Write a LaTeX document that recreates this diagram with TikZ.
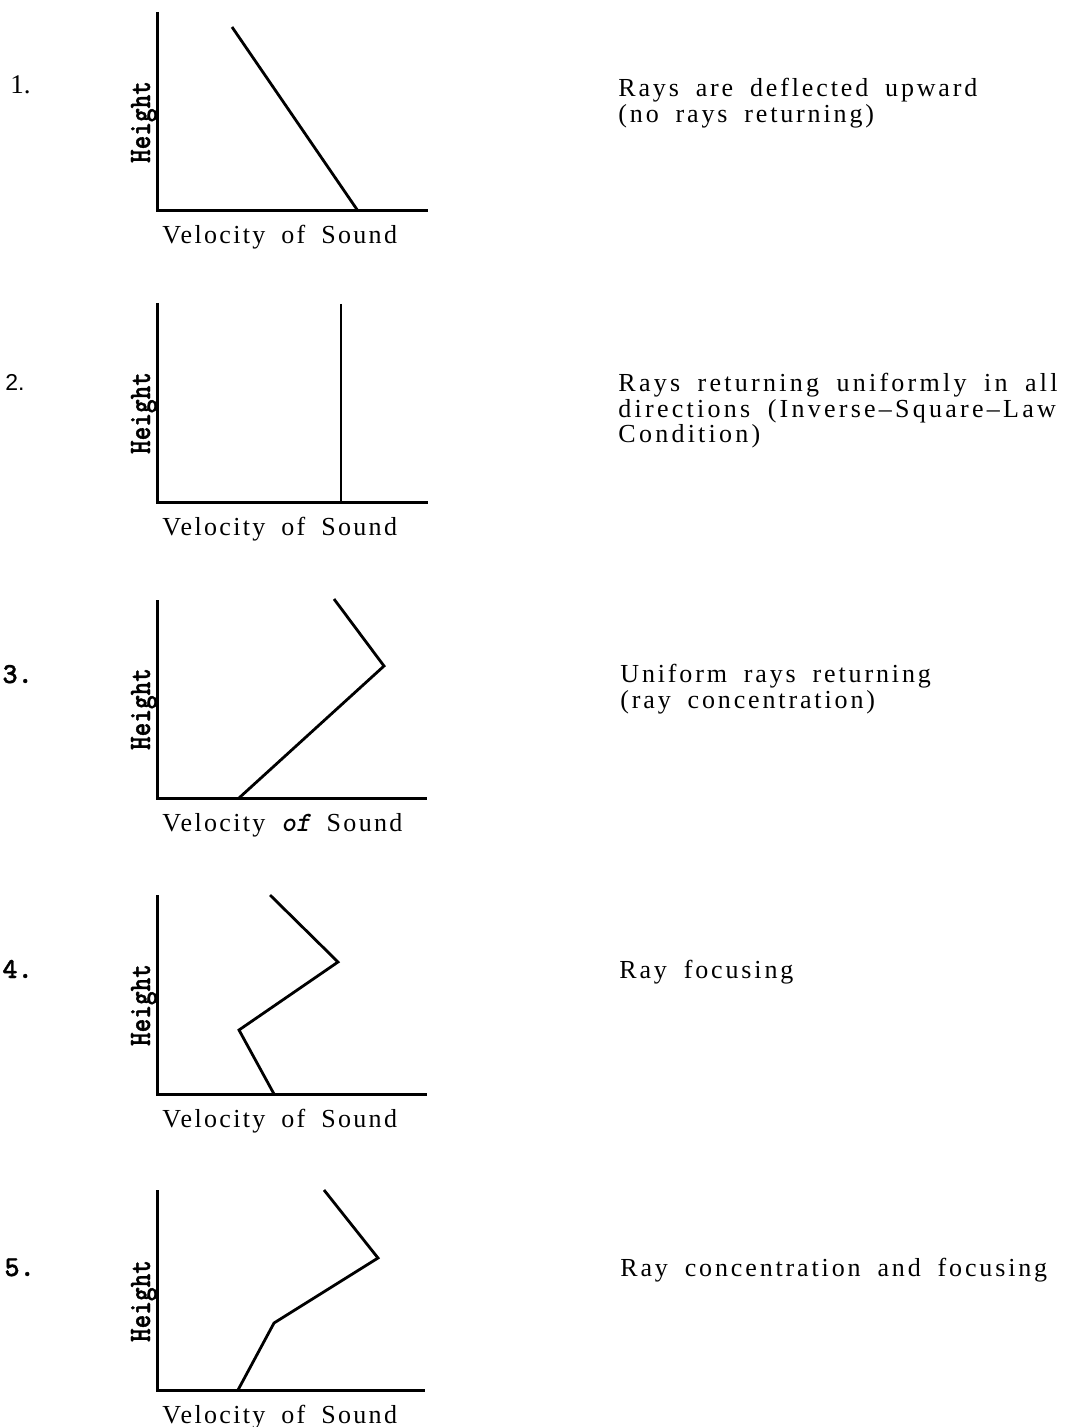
\documentclass[tikz,border=0pt]{standalone}
\usepackage{fontspec}
\setmainfont{Liberation Serif}
\setsansfont{Liberation Sans}
\newfontfamily\spacedfont[LetterSpace=11, WordSpace=1.8]{Liberation Serif}
\newfontfamily\widefont[LetterSpace=12.5, WordSpace=1.8]{Liberation Serif}
\newfontfamily\velfont[LetterSpace=9, WordSpace=1.8]{Liberation Serif}
\newfontfamily\typefont[Extension=.otf, FakeBold=1.2]{lmmonolt10-bold}
\newfontfamily\oblfont[Extension=.otf]{lmmonolt10-boldoblique}
\usetikzlibrary{positioning}

\begin{document}
\begin{tikzpicture}[x=0.5pt, y=-0.5pt,
  axis/.style={line width=1.5pt},
  profile/.style={line width=1.4pt, line join=miter},
  hlabel/.style={rotate=90, yscale=1.2, transform shape, anchor=base, inner sep=0pt, font=\typefont\fontsize{13}{13}\selectfont},
  vlabel/.style={anchor=base west, inner sep=0pt, font=\velfont\fontsize{13}{14}\selectfont},
  desc/.style={anchor=base west, inner sep=0pt, align=left, font=\spacedfont\fontsize{13}{13}\selectfont},
  num/.style={anchor=base west, inner sep=0pt}]
\useasboundingbox (0,0) rectangle (1067,1427);

% AXES
\path foreach \j/\o/\t/\r in {1/211/12/428, 2/502/303/428, 3/798/600/427, 4/1094/895/427, 5/1390/1190/425} {
  (157,\t) coordinate (T\j)
  (157,\o) coordinate (O\j)
  (\r,\o) coordinate (R\j)
};
\foreach \j in {1,...,5} {
  \draw[axis] (T\j) -- (O\j) -- (R\j);
  \path (O\j) ++(-7,-89) node[hlabel] (H\j) {Height};
}
\foreach \j in {1,2,4,5} {
  \path (O\j) ++(5,33) node[vlabel] (V\j) {Velocity of Sound};
}
\path (O3) ++(5,33) node[vlabel] (V3) {Velocity {\oblfont\fontsize{14}{14}\selectfont of} Sound};

% NUMBERS
\node[num, font=\fontsize{13.5}{14}\selectfont] (N1) at (10,94) {1.};
\node[num, font=\sffamily\fontsize{11.5}{12}\selectfont] (N2) at (5,391) {2.};
\node[num, font=\typefont\fontsize{14.5}{15}\selectfont] (N3) at (2,683) {3.};
\node[num, font=\typefont\fontsize{14.5}{15}\selectfont] (N4) at (2,978) {4.};
\node[num, font=\typefont\fontsize{14.5}{15}\selectfont] (N5) at (4,1276) {5.};

% DESCRIPTIONS (base = last line)
\node[desc] (D1) at (618,123) {Rays are deflected upward\\(no rays returning)};
\node[desc, font=\widefont\fontsize{13}{12.5}\selectfont] (D2) at (618,442) {Rays returning uniformly in all\\directions (Inverse–Square–Law\\Condition)};
\node[desc] (D3) at (620,708) {Uniform rays returning\\(ray concentration)};
\node[desc] (D4) at (619,978) {Ray focusing};
\node[desc] (D5) at (620,1276) {Ray concentration and focusing};

% PROFILES
\coordinate (P1a) at (232,27);
\coordinate (P1b) at (358,211);
\draw[profile] (P1a) -- (P1b);
%
\coordinate (P2a) at (341,304);
\coordinate (P2b) at (341,502);
\draw[profile] (P2a) -- (P2b);
%
\coordinate (P3a) at (334,599);
\coordinate (P3b) at (384,666);
\coordinate (P3c) at (239,798);
\draw[profile] (P3a) -- (P3b) -- (P3c);
%
\coordinate (P4a) at (270,895);
\coordinate (P4b) at (338,962);
\coordinate (P4c) at (239,1030);
\coordinate (P4d) at (274,1094);
\draw[profile] (P4a) -- (P4b) -- (P4c) -- (P4d);
%
\coordinate (P5a) at (324,1190);
\coordinate (P5b) at (378,1258);
\coordinate (P5c) at (274,1323);
\coordinate (P5d) at (238,1390);
\draw[profile] (P5a) -- (P5b) -- (P5c) -- (P5d);

\end{tikzpicture}
\end{document}
